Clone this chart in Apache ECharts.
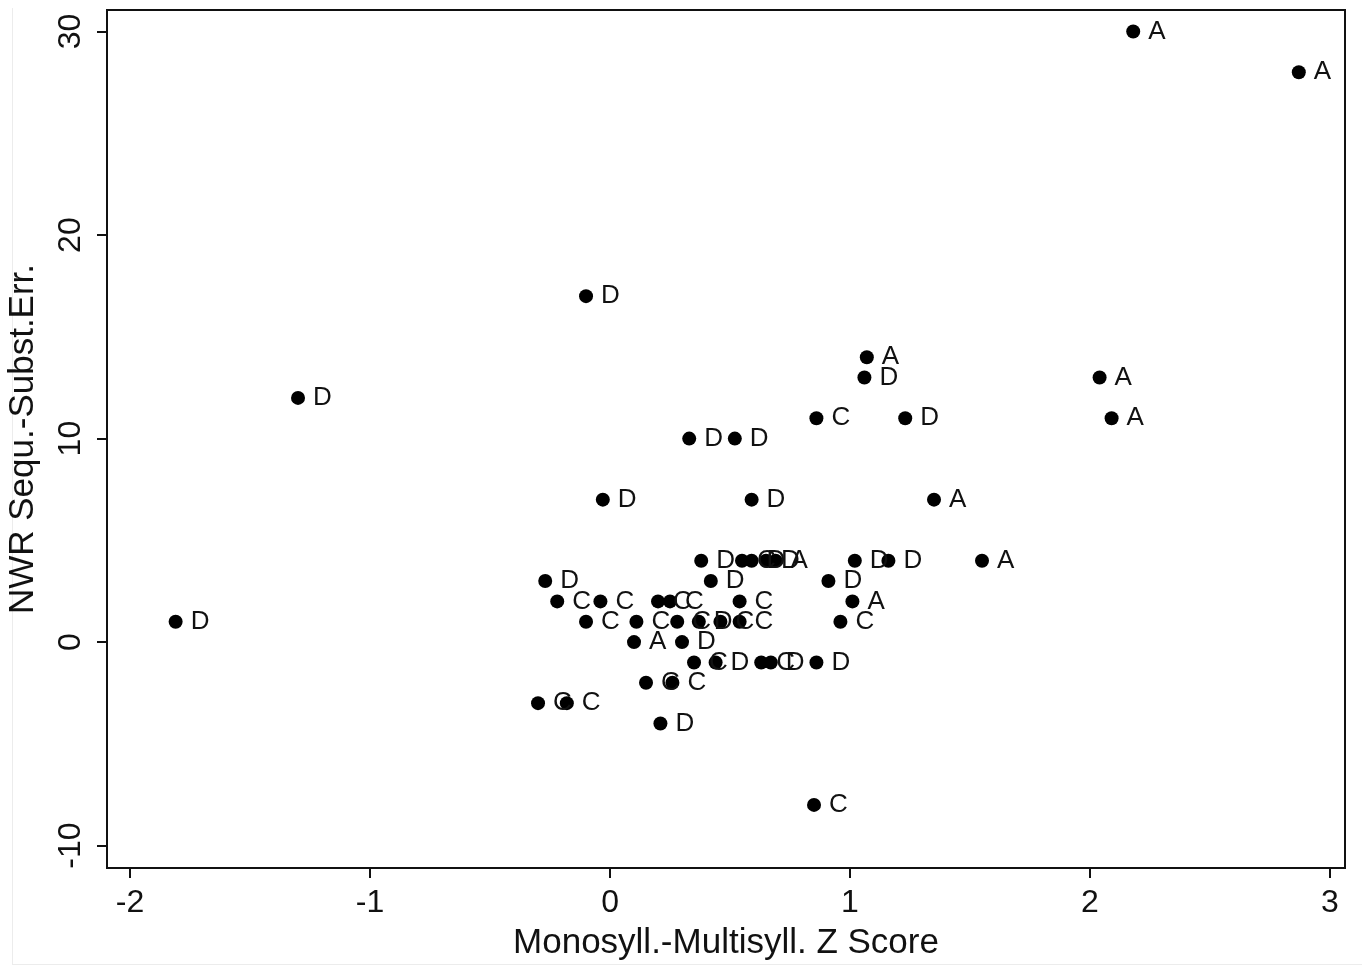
<!DOCTYPE html>
<html>
<head>
<meta charset="utf-8">
<script src="https://cdn.jsdelivr.net/npm/echarts@6/dist/echarts.min.js"></script>
<style>
  html, body { margin: 0; padding: 0; background: #fff; }
  #frame { position: absolute; left: 12px; top: 8px; width: 1350px; height: 956px; border-left: 1px solid #ececec; border-bottom: 1px solid #ececec; }
  #main { position: absolute; left: 0; top: 0; width: 1362px; height: 969px; }
</style>
</head>
<body>
<div id="frame"></div>
<div id="main"></div>
<script>
// Monosyll.-Multisyll. Z score (x), NWR sequence - substitution errors (y), group label
const zScore = [
  2.18, 2.87, -0.10, -1.30, 1.07, 1.06, 2.04, 0.86, 1.23, 2.09,
  0.33, 0.52, -0.03, 0.59, 1.35,
  0.38, 0.55, 0.59, 0.65, 0.69, 1.02, 1.16, 1.55,
  -0.27, 0.42, 0.91,
  -0.22, -0.04, 0.20, 0.25, 0.54, 1.01,
  -1.81, -0.10, 0.11, 0.28, 0.37, 0.46, 0.54, 0.96,
  0.10, 0.30,
  0.35, 0.44, 0.63, 0.67, 0.86,
  0.15, 0.26,
  -0.30, -0.18,
  0.21,
  0.85
];
const nwrErr = [
  30, 28, 17, 12, 14, 13, 13, 11, 11, 11,
  10, 10, 7, 7, 7,
  4, 4, 4, 4, 4, 4, 4, 4,
  3, 3, 3,
  2, 2, 2, 2, 2, 2,
  1, 1, 1, 1, 1, 1, 1, 1,
  0, 0,
  -1, -1, -1, -1, -1,
  -2, -2,
  -3, -3,
  -4,
  -8
];
const group = [
  'A', 'A', 'D', 'D', 'A', 'D', 'A', 'C', 'D', 'A',
  'D', 'D', 'D', 'D', 'A',
  'D', 'C', 'D', 'D', 'A', 'D', 'D', 'A',
  'D', 'D', 'D',
  'C', 'C', 'C', 'C', 'C', 'A',
  'D', 'C', 'C', 'C', 'D', 'C', 'C', 'C',
  'A', 'D',
  'C', 'D', 'C', 'D', 'D',
  'C', 'C',
  'C', 'C',
  'D',
  'C'
];
const xTicks = [-2, -1, 0, 1, 2, 3];
const yTicks = [-10, 0, 10, 20, 30];

const font = '"Liberation Sans", Arial, Helvetica, sans-serif';
const points = zScore.map((x, i) => [x, nwrErr[i], group[i]]);

var myChart = echarts.init(document.getElementById('main'));
var option = {
  animation: false,
  backgroundColor: 'transparent',
  grid: {
    left: 107,
    right: 17,
    top: 10,
    bottom: 101,
    containLabel: false,
    outerBoundsMode: 'none',
    show: true,
    borderColor: '#111',
    borderWidth: 2
  },
  xAxis: {
    type: 'value',
    min: -2.096,
    max: 3.0625,
    name: 'Monosyll.-Multisyll. Z Score',
    nameLocation: 'middle',
    nameGap: 58,
    nameTextStyle: { fontFamily: font, fontSize: 35, color: '#111' },
    splitLine: { show: false },
    axisLine: { show: true, onZero: false, lineStyle: { color: '#111', width: 2 } },
    axisTick: { show: true, length: 10, customValues: xTicks, lineStyle: { color: '#111', width: 2 } },
    axisLabel: { customValues: xTicks, margin: 19, fontFamily: font, fontSize: 32, color: '#111' }
  },
  yAxis: {
    type: 'value',
    min: -11.1,
    max: 31.06,
    name: 'NWR Sequ.-Subst.Err.',
    nameLocation: 'middle',
    nameRotate: 90,
    nameGap: 66,
    nameTextStyle: { fontFamily: font, fontSize: 35, color: '#111' },
    splitLine: { show: false },
    axisLine: { show: true, onZero: false, lineStyle: { color: '#111', width: 2 } },
    axisTick: { show: true, length: 10, customValues: yTicks, lineStyle: { color: '#111', width: 2 } },
    axisLabel: { customValues: yTicks, rotate: 90, margin: 20, fontFamily: font, fontSize: 32, color: '#111' }
  },
  series: [
    {
      type: 'scatter',
      data: points,
      symbol: 'circle',
      symbolSize: 14,
      itemStyle: { color: '#000', opacity: 1 },
      label: {
        show: true,
        position: 'right',
        distance: 8,
        formatter: function (p) { return p.data[2]; },
        fontFamily: font,
        fontSize: 26,
        color: '#111'
      },
      labelLayout: { hideOverlap: false }
    }
  ]
};
myChart.setOption(option);
</script>
</body>
</html>
